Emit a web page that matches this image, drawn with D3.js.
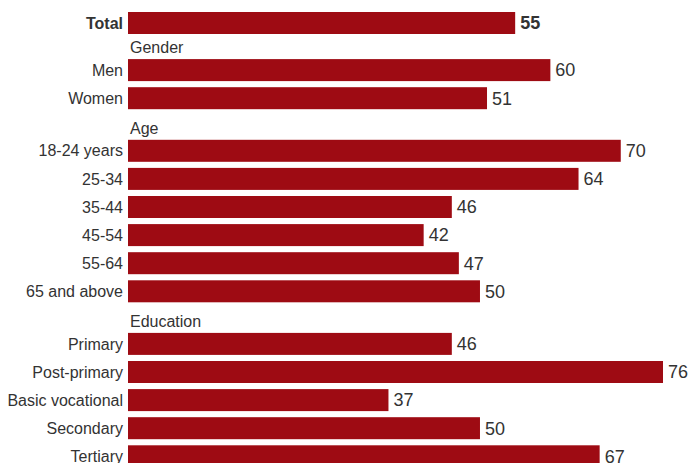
<!DOCTYPE html>
<html lang="en">
<head>
<meta charset="UTF-8"/>
<title>Bar chart</title>
<script src="https://d3js.org/d3.v7.min.js"></script>
<style>
    body { margin: 0; background: #fff; }
    text { font-family: "Liberation Sans", Arial, sans-serif; fill: #333; }
</style>
</head>
<body>
<script>
    var w = 696;
    var h = 463;

    // data
    var groups = ["", "Gender", "Age", "Education"];
    var categories = ["Total", "Men", "Women",
                      "18-24 years", "25-34", "35-44", "45-54", "55-64", "65 and above",
                      "Primary", "Post-primary", "Basic vocational", "Secondary", "Tertiary"];
    var groupOf = [0, 1, 1, 2, 2, 2, 2, 2, 2, 3, 3, 3, 3, 3];
    var values = [55, 60, 51, 70, 64, 46, 42, 47, 50, 46, 76, 37, 50, 67];

    var barColor = "#9e0b13";
    var barH = 22;
    var step = 28.1;
    var top0 = 12;
    var headerGap = [0, 19, 24.5, 24.5];

    // cumulative offset for each group header
    var groupOffset = [];
    var acc = 0;
    headerGap.forEach(function(g, i) { acc += g; groupOffset[i] = acc; });

    function yPos(i) {
        return top0 + step * i + groupOffset[groupOf[i]];
    }

    var xScale = d3.scaleLinear()
                   .domain([0, 76])
                   .range([128, 663]);

    var svg = d3.select("body")
                .append("svg")
                .attr("width", w)
                .attr("height", h);

    var rows = categories.map(function(c, i) {
        return { name: c, value: values[i], i: i };
    });

    svg.selectAll("rect")
        .data(rows)
        .enter()
        .append("rect")
        .attr("x", xScale(0))
        .attr("y", function(d) { return yPos(d.i); })
        .attr("width", function(d) { return xScale(d.value) - xScale(0); })
        .attr("height", barH)
        .attr("fill", barColor);

    // category labels
    svg.selectAll("text.cat")
        .data(rows)
        .enter()
        .append("text")
        .attr("class", "cat")
        .attr("text-anchor", "end")
        .attr("x", 123)
        .attr("y", function(d) { return yPos(d.i) + barH / 2; })
        .attr("dy", "0.35em")
        .style("font-size", "16px")
        .style("font-weight", function(d) { return d.i === 0 ? "bold" : "normal"; })
        .text(function(d) { return d.name; });

    // value labels
    svg.selectAll("text.val")
        .data(rows)
        .enter()
        .append("text")
        .attr("class", "val")
        .attr("x", function(d) { return xScale(d.value) + 5; })
        .attr("y", function(d) { return yPos(d.i) + barH / 2; })
        .attr("dy", "0.35em")
        .style("font-size", "18px")
        .style("font-weight", function(d) { return d.i === 0 ? "bold" : "normal"; })
        .text(function(d) { return d.value; });

    // group headers
    var headers = groups.map(function(g, gi) {
        return { name: g, first: groupOf.indexOf(gi) };
    }).filter(function(d) { return d.name !== ""; });

    svg.selectAll("text.hdr")
        .data(headers)
        .enter()
        .append("text")
        .attr("class", "hdr")
        .attr("x", 130)
        .attr("y", function(d) { return yPos(d.first) - 6; })
        .style("font-size", "16px")
        .text(function(d) { return d.name; });
</script>
</body>
</html>
